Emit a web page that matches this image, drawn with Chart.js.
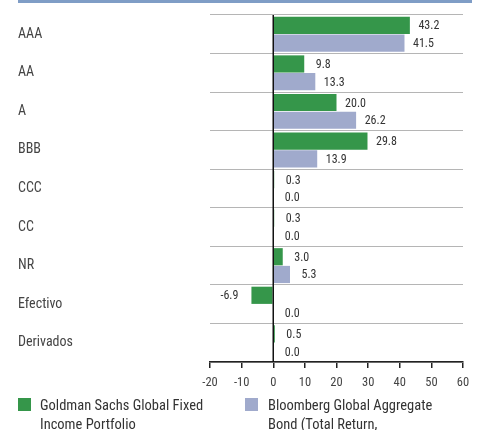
<!DOCTYPE html>
<html>
<head>
<meta charset="utf-8">
<script src="https://cdn.jsdelivr.net/npm/chart.js@4.4.1/dist/chart.umd.min.js"></script>
<style>
    html, body { margin: 0; padding: 0; background: #fff; overflow: hidden; }
    #wrap { position: relative; width: 485px; height: 430px; overflow: hidden; }
    #topbar { position: absolute; left: 18px; top: 0; width: 454px; height: 3px; background: #7f9dc6; }
    canvas { position: absolute; left: 0; top: 0; }
    .legend-item { position: absolute; top: 396px; font-family: "Liberation Sans Narrow", "Roboto Condensed", Roboto, sans-serif; font-size: 14.5px; line-height: 19px; color: #333; }
    .legend-item .box { position: absolute; left: 0; top: 2px; width: 13px; height: 13px; }
    .legend-item .txt { position: absolute; top: 0; white-space: nowrap; }
</style>
</head>
<body>
<div id="wrap">
    <div id="topbar"></div>
    <canvas id="chart" width="485" height="430"></canvas>
    <div class="legend-item" style="left:18px;">
        <div class="box" style="background:#35964a;"></div>
        <div class="txt" style="left:22px;">Goldman Sachs Global Fixed<br>Income Portfolio</div>
    </div>
    <div class="legend-item" style="left:245px;">
        <div class="box" style="background:#a0aacc;"></div>
        <div class="txt" style="left:23px;">Bloomberg Global Aggregate<br>Bond (Total Return,</div>
    </div>
</div>
<script>
const categories = ['AAA', 'AA', 'A', 'BBB', 'CCC', 'CC', 'NR', 'Efectivo', 'Derivados'];
const fundValues = [43.2, 9.8, 20.0, 29.8, 0.3, 0.3, 3.0, -6.9, 0.5];
const benchValues = [41.5, 13.3, 26.2, 13.9, 0.0, 0.0, 5.3, 0.0, 0.0];
const xMin = -20;
const xMax = 60;
const xStep = 10;

const FONT = '"Liberation Sans Narrow", "Roboto Condensed", Roboto, sans-serif';

// Value labels centred a little beyond the end of each bar
const valueLabels = {
    id: 'valueLabels',
    afterDatasetsDraw(chart) {
        const ctx = chart.ctx;
        const xScale = chart.scales.x;
        ctx.save();
        ctx.font = '12px ' + FONT;
        ctx.fillStyle = '#333';
        ctx.textAlign = 'center';
        ctx.textBaseline = 'middle';
        chart.data.datasets.forEach((ds, i) => {
            chart.getDatasetMeta(i).data.forEach((bar, j) => {
                const v = ds.data[j];
                const end = xScale.getPixelForValue(v);
                const x = v < 0 ? end - 22 : end + 19;
                ctx.fillText(v.toFixed(1), x, bar.y + 1);
            });
        });
        ctx.restore();
    }
};

// Black vertical line at zero
const zeroLine = {
    id: 'zeroLine',
    afterDatasetsDraw(chart) {
        const { ctx, chartArea } = chart;
        const x = chart.scales.x.getPixelForValue(0);
        ctx.save();
        ctx.strokeStyle = '#111';
        ctx.lineWidth = 1.5;
        ctx.beginPath();
        ctx.moveTo(x, chartArea.top);
        ctx.lineTo(x, chartArea.bottom);
        ctx.stroke();
        ctx.restore();
    }
};

new Chart(document.getElementById('chart'), {
    type: 'bar',
    data: {
        labels: categories,
        datasets: [
            {
                label: 'Goldman Sachs Global Fixed Income Portfolio',
                data: fundValues,
                backgroundColor: '#35964a',
                barPercentage: 0.97,
                categoryPercentage: 0.92,
            },
            {
                label: 'Bloomberg Global Aggregate Bond (Total Return,',
                data: benchValues,
                backgroundColor: '#a0aacc',
                barPercentage: 0.97,
                categoryPercentage: 0.92,
            }
        ]
    },
    options: {
        indexAxis: 'y',
        responsive: false,
        animation: false,
        layout: { padding: { top: 15, left: 18, right: 22, bottom: 36 } },
        scales: {
            x: {
                min: xMin,
                max: xMax,
                ticks: {
                    stepSize: xStep,
                    color: '#444',
                    font: { family: FONT, size: 12.5 },
                    padding: 7,
                },
                grid: {
                    drawOnChartArea: false,
                    drawTicks: true,
                    tickLength: 6,
                    color: '#222',
                    lineWidth: 1.5,
                },
                border: { display: true, color: '#222', width: 1.5 },
                afterFit(scale) { scale.height = 32; },
            },
            y: {
                ticks: {
                    crossAlign: 'far',
                    color: '#444',
                    font: { family: FONT, size: 14 },
                },
                grid: {
                    color: '#b5b5b5',
                    lineWidth: 1,
                    drawTicks: false,
                },
                border: { display: false },
                afterFit(scale) { scale.width = 192; },
            }
        },
        plugins: {
            legend: { display: false },
            tooltip: { enabled: false },
        }
    },
    plugins: [valueLabels, zeroLine]
});
</script>
</body>
</html>
